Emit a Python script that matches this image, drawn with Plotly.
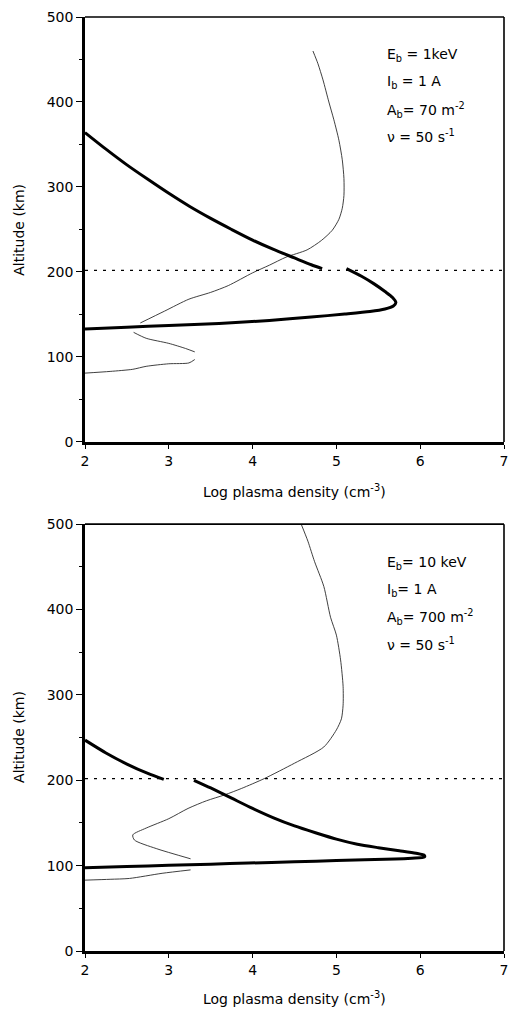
import plotly.graph_objects as go

# ---------------- data ----------------
x_ticks = [2, 3, 4, 5, 6, 7]
y_ticks = [0, 100, 200, 300, 400, 500]
boundary_alt = 202

# top panel: beam-produced plasma (thick)
top_beam_x = [2.0, 2.25, 2.5, 2.75, 3.0, 3.25, 3.5, 3.75, 4.0, 4.25, 4.5, 4.7, 4.83, None,
              5.12, 5.3, 5.45, 5.58, 5.67, 5.71, 5.68, 5.58, 5.4, 5.1, 4.7, 4.2, 3.6, 3.0, 2.5, 2.0]
top_beam_alt = [364, 344.5, 326, 309, 292.5, 277, 263, 250, 237.5, 226.5, 216.5, 208.5, 204, None,
                204, 195, 186, 177, 170, 164, 160, 156.5, 153.5, 150.5, 147, 143, 139.5, 137, 135, 133]

# top panel: ambient ionosphere (thin)
top_bg_x = [4.72, 4.78, 4.84, 4.91, 4.97, 5.03, 5.07, 5.09, 5.09, 5.07, 5.03, 4.95, 4.82, 4.65,
            4.4, 4.2, 4.0, 3.71, 3.5, 3.24, 2.95, 2.66, None, 2.58, 2.73, 3.0, 3.2, 3.31, None,
            3.31, 3.24, 3.0, 2.73, 2.57, 2.3, 2.0]
top_bg_alt = [460, 445, 426, 400, 379, 355, 332, 310, 290, 275, 262, 249, 237, 226,
              217.5, 208, 199, 184, 176, 168, 154, 140, None, 129, 122, 116, 110, 106, None,
              97, 93, 92, 89, 85.5, 83, 81]

# bottom panel: beam-produced plasma (thick)
bot_beam_x = [2.0, 2.25, 2.5, 2.75, 2.94, None, 3.30, 3.5, 3.75, 4.0, 4.25, 4.5, 4.75, 5.0,
              5.25, 5.5, 5.75, 5.95, 6.05, 6.05, 5.9, 5.7, 5.0, 4.5, 3.95, 3.5, 3.0, 2.5, 2.0]
bot_beam_alt = [247, 232, 219, 208, 201, None, 200, 191, 179, 167, 156, 146.5, 138.5, 131,
                125, 121, 117.5, 114.5, 112, 110, 108.7, 107.7, 106, 104.5, 103, 101.7, 100.3, 99, 97.6]

# bottom panel: ambient ionosphere (thin)
bot_bg_x = [4.58, 4.66, 4.74, 4.85, 4.93, 5.0, 5.05, 5.08, 5.08, 5.06, 5.0, 4.85, 4.5, 4.14, 3.87,
            3.67, 3.45, 3.23, 3.0, 2.73, 2.57, 2.59, 2.85, 3.26, None, 3.26, 2.92, 2.53, 2.3, 2.0]
bot_bg_alt = [500, 480, 456, 427, 391, 370, 341, 310, 288, 272, 259, 239, 220, 202, 190.5,
              183, 176, 167, 155, 144, 136, 130, 120, 108, None, 95, 91, 85, 84, 83]

top_labels = ["E<sub>b</sub> = 1keV", "I<sub>b</sub> = 1 A",
              "A<sub>b</sub>= 70 m<sup>-2</sup>", "ν = 50 s<sup>-1</sup>"]
bot_labels = ["E<sub>b</sub>= 10 keV", "I<sub>b</sub>= 1 A",
              "A<sub>b</sub>= 700 m<sup>-2</sup>", "ν = 50 s<sup>-1</sup>"]
label_alts = [455, 423, 391, 360]
label_x = 5.58

x_title = "Log plasma density (cm<sup>-3</sup>)"
y_title = "Altitude (km)"

# ---------------- figure ----------------
FONT = "DejaVu Sans"
fig = go.Figure()

panels = [
    ("x", "y", top_beam_x, top_beam_alt, top_bg_x, top_bg_alt),
    ("x2", "y2", bot_beam_x, bot_beam_alt, bot_bg_x, bot_bg_alt),
]
for xa, ya, bx, by, gx, gy in panels:
    fig.add_trace(go.Scatter(x=gx, y=gy, mode="lines", xaxis=xa, yaxis=ya,
                             line=dict(color="#2a2a2a", width=0.9, shape="spline", smoothing=0.7),
                             connectgaps=False, showlegend=False, hoverinfo="skip"))
    fig.add_trace(go.Scatter(x=[x_ticks[0], x_ticks[-1]], y=[boundary_alt, boundary_alt],
                             mode="lines", xaxis=xa, yaxis=ya,
                             line=dict(color="black", width=1.3, dash="3px,6px"),
                             showlegend=False, hoverinfo="skip"))
    fig.add_trace(go.Scatter(x=bx, y=by, mode="lines", xaxis=xa, yaxis=ya,
                             line=dict(color="black", width=3, shape="spline", smoothing=0.7),
                             connectgaps=False, showlegend=False, hoverinfo="skip"))

axis_common = dict(showgrid=False, zeroline=False, showline=True, linecolor="black",
                   linewidth=2.5, ticks="outside", tickcolor="black",
                   tickfont=dict(family=FONT, size=14, color="black"))

xcommon = dict(axis_common, range=[2, 7], tickvals=x_ticks, ticklen=4, tickwidth=1.2,
               ticklabeloverflow="allow")
ycommon = dict(axis_common, range=[0, 500], tickvals=y_ticks, ticklen=6, tickwidth=1.2,
               minor=dict(ticks="outside", ticklen=3, tickcolor="black", dtick=50, tickwidth=1))

top_dom = [0.545, 1.0]
bot_dom = [0.0, 0.457]

fig.update_layout(
    width=511, height=1011,
    margin=dict(l=85, r=3, t=17, b=60),
    paper_bgcolor="white", plot_bgcolor="white",
    xaxis=dict(xcommon, domain=[0, 1], anchor="y"),
    yaxis=dict(ycommon, domain=top_dom, anchor="x"),
    xaxis2=dict(xcommon, domain=[0, 1], anchor="y2"),
    yaxis2=dict(ycommon, domain=bot_dom, anchor="x2"),
    font=dict(family=FONT, color="black"),
)

# top and right frame lines
for dom in (top_dom, bot_dom):
    fig.add_shape(type="line", xref="paper", yref="paper", x0=0, x1=1, y0=dom[1], y1=dom[1],
                  line=dict(color="black", width=1.6))
    fig.add_shape(type="line", xref="paper", yref="paper", x0=1, x1=1, y0=dom[0], y1=dom[1],
                  line=dict(color="black", width=1.6))

annotations = []
for labels, xa, ya in ((top_labels, "x", "y"), (bot_labels, "x2", "y2")):
    for txt, alt in zip(labels, label_alts):
        annotations.append(dict(text=txt, x=label_x, y=alt, xref=xa, yref=ya,
                                xanchor="left", yanchor="middle", showarrow=False,
                                font=dict(family=FONT, size=14, color="black")))

# axis titles (positioned in paper coords)
for ytitle_pos, xtitle_pos in ((0.772, 0.4925), (0.229, -0.050)):
    annotations.append(dict(text=x_title, x=0.5, y=xtitle_pos, xref="paper", yref="paper",
                            xanchor="center", yanchor="middle", showarrow=False,
                            font=dict(family=FONT, size=14, color="black")))
    annotations.append(dict(text=y_title, x=-0.158, y=ytitle_pos, xref="paper", yref="paper",
                            xanchor="center", yanchor="middle", showarrow=False, textangle=-90,
                            font=dict(family=FONT, size=14, color="black")))

fig.update_layout(annotations=annotations)
fig.write_html("out.html", config={"displayModeBar": False})

# remove default page margin so the figure fills the window exactly
with open("out.html", "r", encoding="utf-8") as f:
    html = f.read()
html = html.replace("<body>", '<body style="margin:0;padding:0;overflow:hidden">', 1)
with open("out.html", "w", encoding="utf-8") as f:
    f.write(html)
